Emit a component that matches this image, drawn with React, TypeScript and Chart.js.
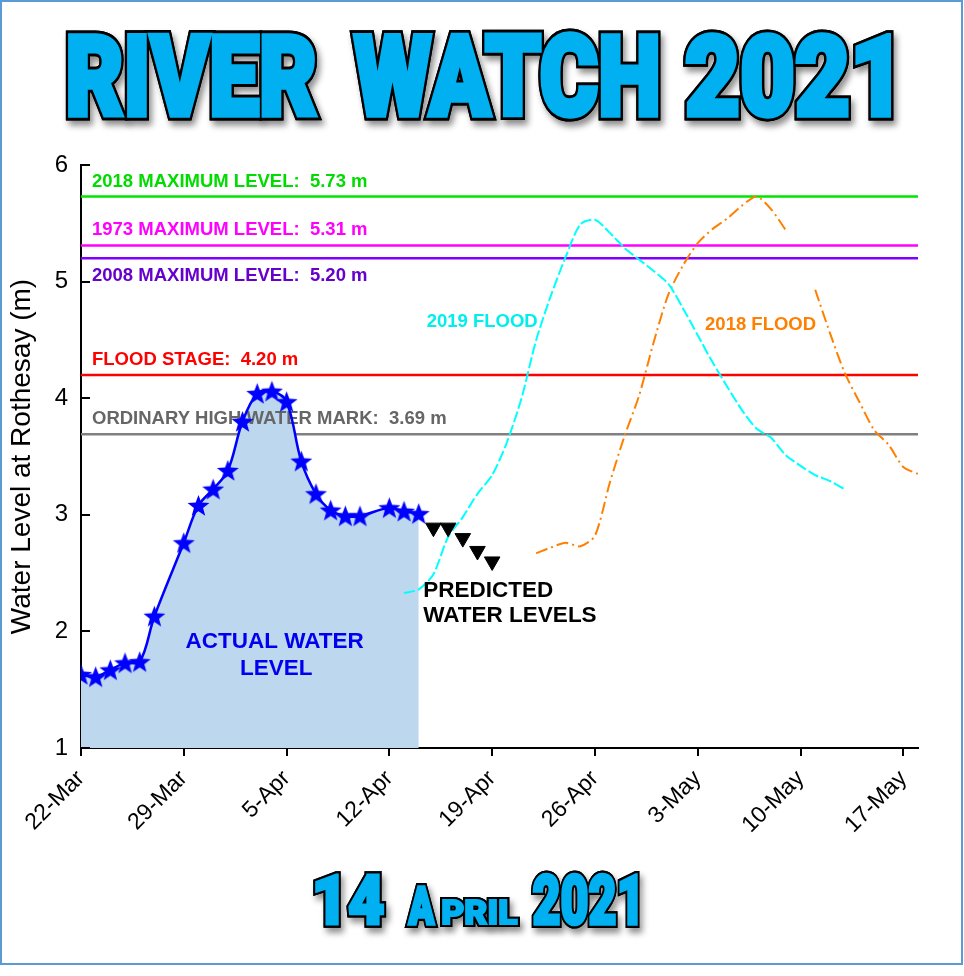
import React, { useEffect, useRef } from 'react';
import { Chart, registerables } from 'chart.js';

Chart.register(...registerables);

const FONT = '"Liberation Sans", Arial, Helvetica, sans-serif';
const TITLE_FONT = '900 100px Roboto, "Liberation Sans", Arial, sans-serif';

// x values are days counted from 22-Mar-2021
const xTickDays = [0, 7, 14, 21, 28, 35, 42, 49, 56];
const xTickLabels = ['22-Mar', '29-Mar', '5-Apr', '12-Apr', '19-Apr', '26-Apr', '3-May', '10-May', '17-May'];
const xMaxDay = 57;
const yMinLevel = 1;
const yMaxLevel = 6;

const actualDays = [0, 1, 2, 3, 4, 5, 7, 8, 9, 10, 11, 12, 13, 14, 15, 16, 17, 18, 19, 21, 22, 23];
const actualLevels = [1.63, 1.61, 1.67, 1.73, 1.74, 2.13, 2.76, 3.08, 3.22, 3.38, 3.8, 4.04, 4.06, 3.97, 3.46, 3.18, 3.04, 2.99, 2.99, 3.06, 3.03, 3.01];

const predictedDays = [24, 25, 26, 27, 28];
const predictedLevels = [2.89, 2.89, 2.8, 2.69, 2.6];

const flood2019Days = [22, 23, 24, 25, 26, 27, 28, 29, 30, 31, 32, 33, 34, 35, 36, 37, 38, 39, 40, 41, 42, 43, 44, 45, 46, 47, 48, 49, 50, 51, 52];
const flood2019Levels = [2.33, 2.36, 2.49, 2.81, 2.98, 3.18, 3.34, 3.62, 4.0, 4.5, 4.88, 5.21, 5.49, 5.53, 5.42, 5.29, 5.19, 5.09, 4.98, 4.77, 4.54, 4.31, 4.1, 3.9, 3.74, 3.66, 3.51, 3.42, 3.34, 3.29, 3.22];

const flood2018Days = [31, 32, 33, 34, 35, 36, 37, 38, 39, 40, 41, 42, 43, 44, 45, 46, 47, 48, 49, 50, 51, 52, 53, 54, 55, 56, 57];
const flood2018Levels = [2.67, 2.72, 2.76, 2.73, 2.82, 3.27, 3.67, 4.02, 4.48, 4.89, 5.14, 5.33, 5.45, 5.54, 5.65, 5.73, 5.62, 5.44, null, 4.93, 4.56, 4.22, 3.97, 3.73, 3.6, 3.41, 3.35];

const refLevels = [5.73, 5.31, 5.2, 4.2, 3.69];
const refLabels = [
  '2018 MAXIMUM LEVEL:  5.73 m',
  '1973 MAXIMUM LEVEL:  5.31 m',
  '2008 MAXIMUM LEVEL:  5.20 m',
  'FLOOD STAGE:  4.20 m',
  'ORDINARY HIGH WATER MARK:  3.69 m',
];

// styles (kept apart from the data)
const refLineColors = ['#00E600', '#FF00FF', '#8000FF', '#FF0000', '#808080'];
const refTextColors = ['#00DC00', '#FF00FF', '#6600CC', '#FF0000', '#666666'];
const refLabelDy = [-9.5, -10.5, 22.5, -10, -10];

const notes = [
  { text: '2019 FLOOD', day: 23.54, level: 4.611, color: '#00EEEE', size: 18.5, align: 'left' },
  { text: '2018 FLOOD', day: 42.5, level: 4.585, color: '#FF8000', size: 18.5, align: 'left' },
  { text: 'PREDICTED', day: 23.31, level: 2.295, color: '#000000', size: 22.5, align: 'left' },
  { text: 'WATER LEVELS', day: 23.31, level: 2.081, color: '#000000', size: 22.5, align: 'left' },
  { text: 'ACTUAL WATER', day: 13.19, level: 1.858, color: '#0000EE', size: 22.5, align: 'center' },
  { text: 'LEVEL', day: 13.3, level: 1.626, color: '#0000EE', size: 22.5, align: 'center' },
];

function makeStar(outer: number, inner: number, color: string) {
  const c = document.createElement('canvas');
  const s = Math.ceil(outer * 2 + 2);
  c.width = s;
  c.height = s;
  const g = c.getContext('2d')!;
  g.beginPath();
  for (let i = 0; i < 10; i++) {
    const r = i % 2 === 0 ? outer : inner;
    const a = -Math.PI / 2 + (i * Math.PI) / 5;
    const px = s / 2 + r * Math.cos(a);
    const py = s / 2 + 1 + r * Math.sin(a);
    if (i === 0) g.moveTo(px, py);
    else g.lineTo(px, py);
  }
  g.closePath();
  g.fillStyle = color;
  g.fill();
  return c;
}

function drawFancy(
  ctx: CanvasRenderingContext2D,
  text: string,
  x0: number,
  x1: number,
  top: number,
  bottom: number,
  outline: number,
  bold: number
) {
  ctx.save();
  ctx.font = TITLE_FONT;
  ctx.textAlign = 'left';
  ctx.textBaseline = 'alphabetic';
  const m = ctx.measureText(text);
  const inkW = m.actualBoundingBoxLeft + m.actualBoundingBoxRight;
  const capA = ctx.measureText('H').actualBoundingBoxAscent;
  const pad = outline + bold;
  const sx = (x1 - x0 - 2 * pad) / inkW;
  const sy = (bottom - top - 2 * pad) / capA;
  ctx.translate(x0 + pad + m.actualBoundingBoxLeft * sx, bottom - pad);
  ctx.scale(sx, sy);
  const k = 2 / (sx + sy);
  ctx.lineJoin = 'miter';
  ctx.miterLimit = 3;
  ctx.shadowColor = 'rgba(0,0,0,0.45)';
  ctx.shadowBlur = 6;
  ctx.shadowOffsetX = 3;
  ctx.shadowOffsetY = 5;
  ctx.strokeStyle = '#000000';
  ctx.lineWidth = 2 * pad * k;
  ctx.strokeText(text, 0, 0);
  ctx.shadowColor = 'rgba(0,0,0,0)';
  ctx.strokeText(text, 0, 0);
  ctx.fillStyle = '#00B0F0';
  ctx.strokeStyle = '#00B0F0';
  if (bold > 0) {
    ctx.lineWidth = 2 * bold * k;
    ctx.strokeText(text, 0, 0);
  }
  ctx.fillText(text, 0, 0);
  ctx.restore();
}

const xy = (xs: number[], ys: (number | null)[]) => xs.map((x, i) => ({ x, y: ys[i] }));

export default function App() {
  const ref = useRef<HTMLCanvasElement>(null);

  useEffect(() => {
    const canvas = ref.current!;
    const star = makeStar(11.5, 4.8, '#0000FF');

    const decor = {
      id: 'decor',
      beforeDatasetDraw(chart: any, args: any) {
        if (chart.data.datasets[args.index].label !== 'Actual') return;
        const { ctx, chartArea } = chart;
        const xs = chart.scales.x;
        const ys = chart.scales.y;
        ctx.save();
        ctx.textBaseline = 'alphabetic';
        ctx.textAlign = 'left';
        ctx.font = `bold 18.5px ${FONT}`;
        refLevels.forEach((lv, i) => {
          ctx.fillStyle = refTextColors[i];
          ctx.fillText(refLabels[i], chartArea.left + 11, ys.getPixelForValue(lv) + refLabelDy[i]);
        });
        notes.forEach((n) => {
          ctx.font = `bold ${n.size}px ${FONT}`;
          ctx.fillStyle = n.color;
          ctx.textAlign = n.align as CanvasTextAlign;
          ctx.fillText(n.text, xs.getPixelForValue(n.day), ys.getPixelForValue(n.level));
        });
        ctx.restore();
      },
      afterDraw(chart: any) {
        const { ctx, chartArea } = chart;
        const ys = chart.scales.y;
        ctx.save();
        // inward y tick marks
        ctx.strokeStyle = '#000';
        ctx.lineWidth = 2;
        ys.ticks.forEach((t: any) => {
          const py = Math.round(ys.getPixelForValue(t.value));
          ctx.beginPath();
          ctx.moveTo(chartArea.left, py);
          ctx.lineTo(chartArea.left + 9, py);
          ctx.stroke();
        });
        // frame
        ctx.strokeStyle = '#5B9BD5';
        ctx.lineWidth = 2;
        ctx.strokeRect(1, 1, 961, 963);
        ctx.restore();
        // titles
        drawFancy(ctx, 'RIVER', 65, 320, 30, 120, 2.5, 2.5);
        drawFancy(ctx, 'WATCH', 350, 661, 30, 120, 2.5, 2.5);
        drawFancy(ctx, '2021', 682, 894, 30, 120, 2.5, 2.5);
        drawFancy(ctx, '14', 313, 387, 870, 927, 2, 1.5);
        drawFancy(ctx, 'A', 405, 438, 883, 927, 2, 1.5);
        drawFancy(ctx, 'PRIL', 440, 520, 897, 927, 2, 1);
        drawFancy(ctx, '2021', 530, 640, 870, 927, 2, 1.5);
      },
    };

    const refSets = refLevels.map((lv, i) => ({
      label: refLabels[i],
      data: [
        { x: 0, y: lv },
        { x: xMaxDay, y: lv },
      ],
      borderColor: refLineColors[i],
      borderWidth: 2.5,
      pointRadius: 0,
      fill: false,
      order: 6,
    }));

    const chart = new Chart(canvas, {
      type: 'line',
      data: {
        datasets: [
          {
            label: 'Actual',
            data: xy(actualDays, actualLevels),
            borderColor: '#0000FF',
            borderWidth: 2.5,
            tension: 0.35,
            pointStyle: star as any,
            pointRadius: 11,
            fill: false,
            order: 1,
          },
          {
            label: 'Predicted',
            data: xy(predictedDays, predictedLevels),
            showLine: false,
            pointStyle: 'triangle',
            rotation: 180,
            pointRadius: 9,
            pointBackgroundColor: '#000',
            pointBorderColor: '#000',
            pointBorderWidth: 1,
            order: 0,
          },
          {
            label: 'ActualArea',
            data: xy(actualDays, actualLevels),
            borderColor: 'rgba(0,0,0,0)',
            borderWidth: 0,
            backgroundColor: '#BDD7EE',
            tension: 0.35,
            pointRadius: 0,
            fill: 'start',
            order: 5,
          },
          {
            label: '2019 Flood',
            data: xy(flood2019Days, flood2019Levels),
            borderColor: '#00FFFF',
            borderWidth: 2,
            borderDash: [11, 3],
            tension: 0.25,
            pointRadius: 0,
            fill: false,
            order: 4,
          },
          {
            label: '2018 Flood',
            data: xy(flood2018Days, flood2018Levels),
            borderColor: '#FF8000',
            borderWidth: 2,
            borderDash: [12, 4, 2, 4],
            tension: 0.25,
            pointRadius: 0,
            spanGaps: false,
            fill: false,
            order: 4,
          },
          ...refSets,
        ] as any,
      },
      options: {
        responsive: false,
        animation: false,
        layout: { padding: { left: 0, top: 165, right: 46, bottom: 128 } },
        plugins: {
          legend: { display: false },
          tooltip: { enabled: false },
        },
        scales: {
          x: {
            type: 'linear',
            min: 0,
            max: xMaxDay,
            afterBuildTicks: (scale: any) => {
              scale.ticks = xTickDays.map((v) => ({ value: v }));
            },
            afterFit: (scale: any) => {
              scale.height = 100;
              scale.paddingRight = 0;
            },
            ticks: {
              autoSkip: false,
              minRotation: 45,
              maxRotation: 45,
              padding: 9,
              color: '#000',
              font: { family: FONT, size: 23 },
              callback: (v: any) => {
                const i = xTickDays.indexOf(Number(v));
                return i >= 0 ? xTickLabels[i] : '';
              },
            },
            grid: {
              display: true,
              drawOnChartArea: false,
              drawTicks: true,
              tickLength: 8,
              color: '#000',
              lineWidth: 2,
            },
            border: { display: true, color: '#000', width: 2 },
          },
          y: {
            type: 'linear',
            min: yMinLevel,
            max: yMaxLevel,
            afterFit: (scale: any) => {
              scale.width = 81;
            },
            ticks: {
              stepSize: 1,
              padding: 13,
              color: '#000',
              font: { family: FONT, size: 24 },
            },
            grid: { display: false, drawTicks: false },
            border: { display: true, color: '#000', width: 2 },
            title: {
              display: true,
              text: 'Water Level at Rothesay (m)',
              color: '#000',
              font: { family: FONT, size: 28 },
              padding: { top: 5, bottom: 0 },
            },
          },
        },
      } as any,
      plugins: [decor],
    });

    return () => chart.destroy();
  }, []);

  return (
    <canvas
      ref={ref}
      width={964}
      height={976}
      style={{ position: 'absolute', left: 0, top: 0, display: 'block', background: '#fff' }}
    />
  );
}
